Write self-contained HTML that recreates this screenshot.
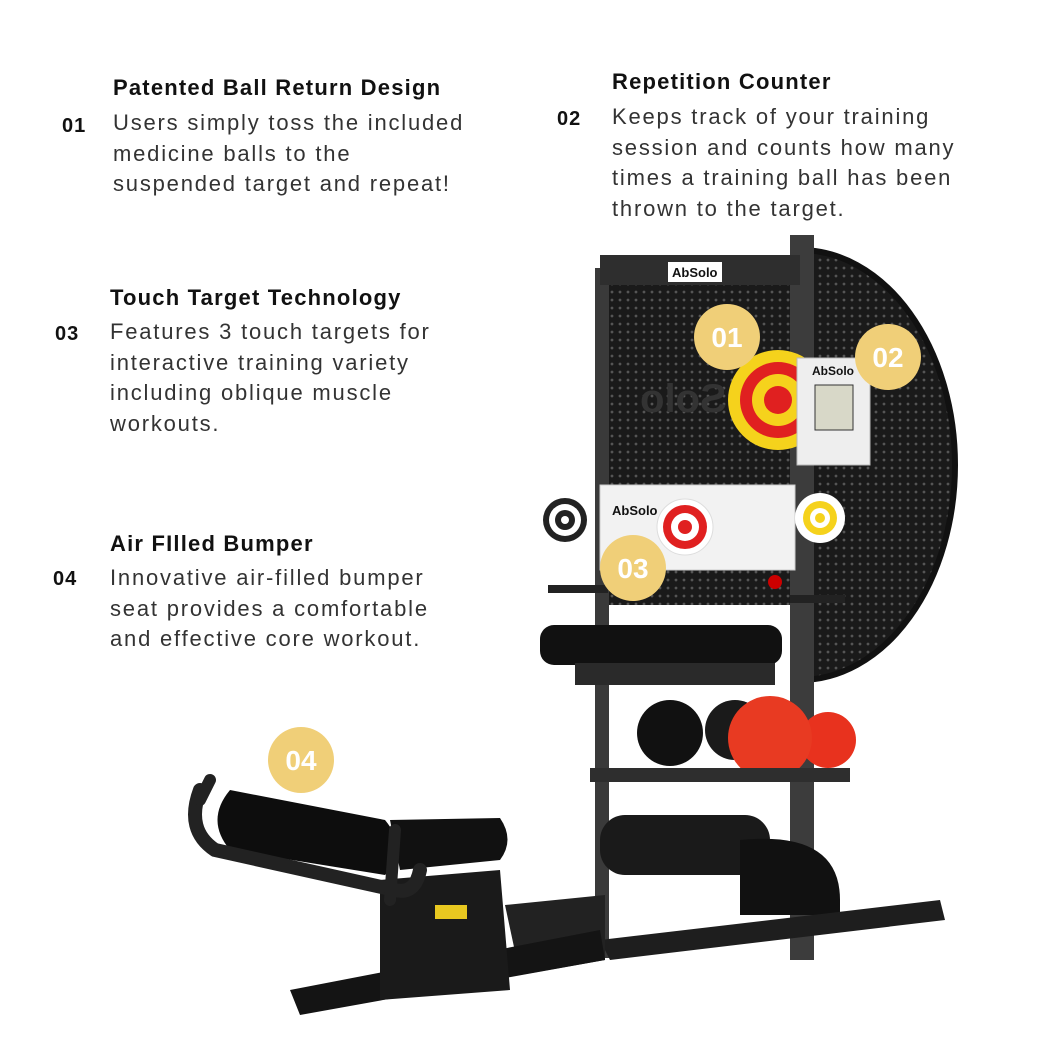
<!DOCTYPE html>
<html><head><meta charset="utf-8"><style>
body{margin:0;width:1048px;height:1048px;background:#fff;position:relative;overflow:hidden;font-family:"Liberation Sans",sans-serif}
.h{position:absolute;font-weight:bold;font-size:22px;letter-spacing:1.2px;color:#111;white-space:nowrap}
.n{position:absolute;font-weight:bold;font-size:20px;letter-spacing:1px;color:#111}
.t{position:absolute;font-size:22px;color:#333;line-height:30.5px;letter-spacing:1.8px;white-space:nowrap}
svg{position:absolute;left:0;top:0}
</style></head><body>
<svg width="1048" height="1048" viewBox="0 0 1048 1048">
<defs>
<pattern id="dots" width="8" height="8" patternUnits="userSpaceOnUse"><rect width="8" height="8" fill="#1a1a1a"/><circle cx="4" cy="4" r="1.4" fill="#555"/></pattern>
<clipPath id="pc"><rect x="605" y="285" width="195" height="320"/></clipPath>
</defs>
<path d="M800 250 A155 215 0 0 1 800 680 Z" fill="url(#dots)" stroke="#111" stroke-width="6"/>
<rect x="605" y="285" width="195" height="320" fill="url(#dots)"/>
<g clip-path="url(#pc)"><text x="-780" y="412" font-size="40" fill="#333" font-weight="bold" transform="scale(-1,1)">AbSolo</text></g>
<rect x="595" y="268" width="14" height="690" fill="#3a3a3a"/>
<rect x="790" y="235" width="24" height="725" fill="#3c3c3c"/>
<rect x="600" y="255" width="200" height="30" fill="#2e2e2e"/>
<rect x="668" y="262" width="54" height="20" fill="#fff"/>
<text x="672" y="277" font-size="13" font-weight="bold" fill="#111">AbSolo</text>
<circle cx="778" cy="400" r="50" fill="#f5d21c"/><circle cx="778" cy="400" r="38" fill="#e02020"/><circle cx="778" cy="400" r="26" fill="#f5d21c"/><circle cx="778" cy="400" r="14" fill="#e02020"/>
<rect x="797" y="358" width="73" height="107" fill="#eee" stroke="#bbb"/>
<text x="812" y="375" font-size="12" font-weight="bold" fill="#111">AbSolo</text>
<rect x="815" y="385" width="38" height="45" fill="#d8d8c8" stroke="#333"/>
<rect x="600" y="485" width="195" height="85" fill="#f2f2f2" stroke="#ccc"/>
<text x="612" y="515" font-size="13" font-weight="bold" fill="#111">AbSolo</text>
<circle cx="685" cy="527" r="28" fill="#fff" stroke="#ddd"/><circle cx="685" cy="527" r="22" fill="#e02020"/><circle cx="685" cy="527" r="14" fill="#fff"/><circle cx="685" cy="527" r="7" fill="#e02020"/>
<circle cx="565" cy="520" r="22" fill="#222"/><circle cx="565" cy="520" r="16" fill="#fff"/><circle cx="565" cy="520" r="10" fill="#222"/><circle cx="565" cy="520" r="4" fill="#fff"/>
<circle cx="820" cy="518" r="25" fill="#fff"/><circle cx="820" cy="518" r="17" fill="#f5d21c"/><circle cx="820" cy="518" r="10" fill="#fff"/><circle cx="820" cy="518" r="5" fill="#f5d21c"/>
<rect x="548" y="585" width="60" height="8" fill="#222"/><rect x="790" y="595" width="55" height="8" fill="#222"/>
<circle cx="775" cy="582" r="7" fill="#c00"/>
<rect x="540" y="625" width="242" height="40" rx="14" fill="#111"/>
<rect x="575" y="663" width="200" height="22" fill="#2a2a2a"/>
<circle cx="670" cy="733" r="33" fill="#111"/>
<circle cx="735" cy="730" r="30" fill="#1a1a1a"/>
<circle cx="828" cy="740" r="28" fill="#e8321e"/>
<circle cx="770" cy="738" r="42" fill="#e83a22"/>
<rect x="590" y="768" width="260" height="14" fill="#2e2e2e"/>
<rect x="600" y="815" width="170" height="60" rx="25" fill="#1a1a1a"/>
<path d="M740 840 Q840 830 840 900 L840 915 L740 915 Z" fill="#111"/>
<path d="M600 940 L940 900 L945 920 L610 960 Z" fill="#1e1e1e"/>
<path d="M505 905 L605 895 L605 960 L520 975 Z" fill="#222"/>
<path d="M290 990 L600 930 L605 960 L300 1015 Z" fill="#141414"/>
<path d="M380 880 L500 870 L510 990 L380 1000 Z" fill="#1a1a1a"/>
<path d="M230 790 L385 820 Q410 850 385 875 L230 850 Q205 820 230 790 Z" fill="#0d0d0d"/>
<path d="M390 820 L500 818 Q515 840 500 860 L400 870 Z" fill="#111"/>
<path d="M200 790 Q185 830 215 850 L395 890 Q415 895 420 870" fill="none" stroke="#222" stroke-width="14" stroke-linecap="round"/>
<path d="M210 780 L200 800 M395 830 L390 900" stroke="#222" stroke-width="12" stroke-linecap="round" fill="none"/>
<rect x="435" y="905" width="32" height="14" fill="#e8c820"/>
<g fill="#f0cf78"><circle cx="727" cy="337" r="33"/><circle cx="888" cy="357" r="33"/><circle cx="633" cy="568" r="33"/><circle cx="301" cy="760" r="33"/></g>
<g fill="#fff" font-size="28" font-weight="bold" text-anchor="middle" font-family="Liberation Sans,sans-serif">
<text x="727" y="347">01</text><text x="888" y="367">02</text><text x="633" y="578">03</text><text x="301" y="770">04</text></g>
</svg>

<div class="h" style="left:113px;top:75px">Patented Ball Return Design</div>
<div class="n" style="left:62px;top:115px">01</div>
<div class="t" style="left:113px;top:108px">Users simply toss the included<br>medicine balls to the<br>suspended target and repeat!</div>

<div class="h" style="left:612px;top:69px">Repetition Counter</div>
<div class="n" style="left:557px;top:108px">02</div>
<div class="t" style="left:612px;top:102px">Keeps track of your training<br>session and counts how many<br>times a training ball has been<br>thrown to the target.</div>

<div class="h" style="left:110px;top:285px">Touch Target Technology</div>
<div class="n" style="left:55px;top:323px">03</div>
<div class="t" style="left:110px;top:317px">Features 3 touch targets for<br>interactive training variety<br>including oblique muscle<br>workouts.</div>

<div class="h" style="left:110px;top:531px">Air FIlled Bumper</div>
<div class="n" style="left:53px;top:568px">04</div>
<div class="t" style="left:110px;top:563px">Innovative air-filled bumper<br>seat provides a comfortable<br>and effective core workout.</div>
</body></html>
